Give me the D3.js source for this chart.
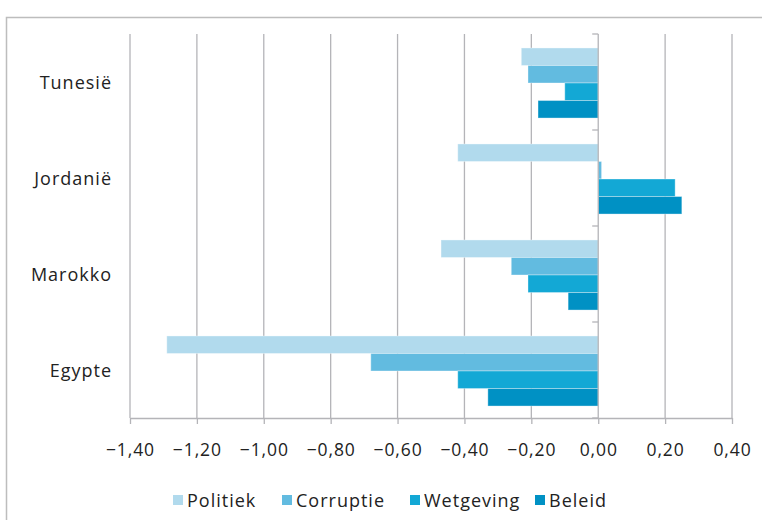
<!DOCTYPE html>
<html><head><meta charset="utf-8">
<script src="https://cdn.jsdelivr.net/npm/d3@7"></script>
<style>body{margin:0;background:#fff}svg{display:block}</style>
</head><body>
<script>
const categories = ["Tunesië", "Jordanië", "Marokko", "Egypte"];
const seriesNames = ["Politiek", "Corruptie", "Wetgeving", "Beleid"];
const politiek  = [-0.23, -0.42, -0.47, -1.29];
const corruptie = [-0.21,  0.01, -0.26, -0.68];
const wetgeving = [-0.10,  0.23, -0.21, -0.42];
const beleid    = [-0.18,  0.25, -0.09, -0.33];
const xTicks = [-1.4, -1.2, -1.0, -0.8, -0.6, -0.4, -0.2, 0, 0.2, 0.4];
const colors = ["#b1daed", "#62bbe0", "#13a8d5", "#0091c4"];

(function () {
const seriesValues = [politiek, corruptie, wetgeving, beleid];
const W = 762, H = 520;
const svg = d3.select("body").append("svg").attr("width", W).attr("height", H);
const font = "'Open Sans', 'Noto Sans', sans-serif";
const fs = 18, ls = "1px";

svg.append("path").attr("d", `M6.5,${H+2} V17.5 H${W+2}`)
  .attr("fill", "none").attr("stroke", "#bdbdbd").attr("stroke-width", 1.5);

const pLeft = 130, pRight = 732, pTop = 34, pBottom = 418;
const x = d3.scaleLinear().domain([-1.4, 0.4]).range([pLeft, pRight]);
const y0 = d3.scaleBand().domain(categories).range([pTop, pBottom]).paddingInner(0).paddingOuter(0);
const inner = 0.73;
const y1 = d3.scaleBand().domain(seriesNames)
  .range([0, y0.bandwidth() * inner]).padding(0);

const gridColor = "#b4b4b8";
svg.append("g").selectAll("line").data(xTicks.filter(d => d !== 0)).join("line")
  .attr("x1", d => x(d)).attr("x2", d => x(d)).attr("y1", pTop).attr("y2", pBottom)
  .attr("stroke", gridColor).attr("stroke-width", 1.3);

const groups = svg.append("g").selectAll("g").data(categories).join("g")
  .attr("transform", c => `translate(0,${y0(c) + y0.bandwidth() * (1 - inner) / 2 + 1})`);
groups.selectAll("rect").data((c, i) => seriesNames.map((s, j) => ({s, j, v: seriesValues[j][i]})))
  .join("rect")
  .attr("x", d => x(Math.min(0, d.v)))
  .attr("width", d => Math.abs(x(d.v) - x(0)))
  .attr("y", d => y1(d.s))
  .attr("height", y1.bandwidth())
  .attr("fill", d => colors[d.j])
  .attr("stroke", "rgba(255,255,255,0.35)").attr("stroke-width", 1);

const gy = svg.append("g").attr("transform", `translate(${x(0)},0)`);
gy.append("line").attr("x1", 0).attr("x2", 0).attr("y1", pTop).attr("y2", pBottom)
  .attr("stroke", gridColor).attr("stroke-width", 1.3);
const bounds = categories.map(c => y0(c)).concat([pBottom]);
gy.selectAll("line.tk").data(bounds).join("line").attr("class", "tk")
  .attr("x1", -6).attr("x2", 0).attr("y1", d => d).attr("y2", d => d)
  .attr("stroke", gridColor).attr("stroke-width", 1.3);

svg.append("g").selectAll("text").data(categories).join("text")
  .attr("x", 112).attr("y", c => y0(c) + y0.bandwidth() / 2 + 1)
  .attr("dy", "0.35em").attr("text-anchor", "end")
  .attr("font-family", font).attr("font-size", fs).attr("letter-spacing", ls).attr("fill", "#222")
  .text(c => c);

const fmt = d => (d < 0 ? "\u2212" : "") + Math.abs(d).toFixed(2).replace(".", ",");
const xAxis = d3.axisBottom(x).tickValues(xTicks).tickSize(6).tickSizeOuter(0).tickFormat(fmt).tickPadding(20);
const gx = svg.append("g").attr("transform", `translate(0,${pBottom})`).call(xAxis);
gx.select(".domain").attr("stroke", gridColor).attr("stroke-width", 1.3);
gx.selectAll(".tick line").attr("stroke", gridColor).attr("stroke-width", 1.3);
gx.selectAll(".tick text").attr("font-family", font).attr("font-size", 17.5).attr("letter-spacing", "0.9px").attr("fill", "#222");

const legendX = [173, 282, 410, 535];
const lg = svg.append("g").selectAll("g").data(seriesNames).join("g")
  .attr("transform", (d, i) => `translate(${legendX[i]},0)`);
lg.append("rect").attr("x", 0).attr("y", 495).attr("width", 10).attr("height", 10)
  .attr("fill", (d, i) => colors[i]);
lg.append("text").attr("x", 14).attr("y", 501).attr("dy", "0.35em")
  .attr("font-family", font).attr("font-size", fs).attr("letter-spacing", ls).attr("fill", "#222").text(d => d);
})();
</script>
</body></html>
